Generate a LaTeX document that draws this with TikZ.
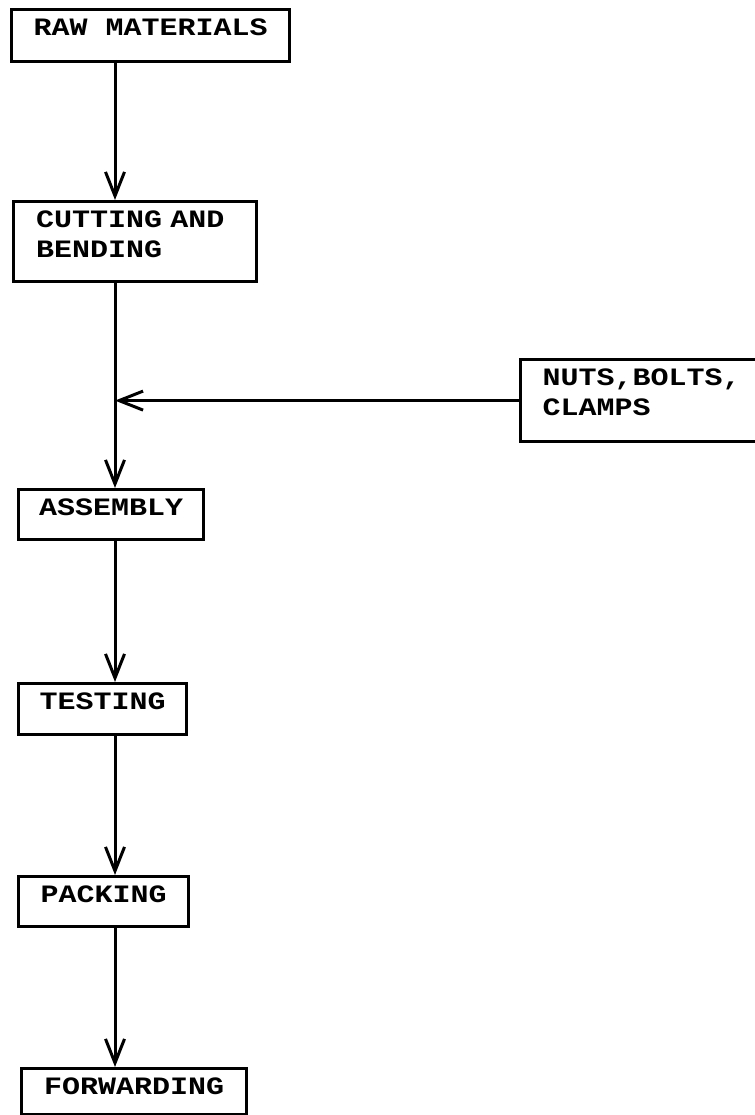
\documentclass[tikz,border=0pt]{standalone}
\usepackage{fontspec}
\usetikzlibrary{arrows.meta}
\newfontfamily\typewriter[FakeStretch=1.2]{Liberation Mono}

\begin{document}
\begin{tikzpicture}[x=0.5pt, y=-0.5pt, >={Straight Barb[length=12pt, width=9.5pt]},
    font=\typewriter\bfseries\fontsize{12.5pt}{15pt}\selectfont,
    stage/.style={draw, line width=1.6pt, anchor=north west, inner xsep=0pt, inner ysep=0pt, text height=13pt},
    flow/.style={->, line width=1.5pt}]

\useasboundingbox (0,0) rectangle (755,1115);

% ── process boxes ─────────────────────────────────────────────
\node[stage, minimum width=139pt, text depth=13pt] (raw) at (10,8) {RAW MATERIALS};
\node[stage, minimum width=121.5pt, text depth=27pt, text width=99pt, align=left] (cut) at (12,200)
    {CUTTING AND\\BENDING};
\node[stage, minimum width=121pt, text depth=28pt, text width=99pt, align=left] (nuts) at (519,358)
    {NUTS,BOLTS,\\CLAMPS};
\node[stage, minimum width=92.5pt, text depth=12pt] (asm) at (17,488) {ASSEMBLY};
\node[stage, minimum width=84pt, text depth=12.5pt] (test) at (17,682) {TESTING};
\node[stage, minimum width=85pt, text depth=12pt] (pack) at (17,875) {PACKING};
\node[stage, minimum width=112.5pt, text depth=10pt] (fwd) at (20,1067) {FORWARDING};

% main line runs down the left
\coordinate (spine) at (115,0);

% ── connectors ────────────────────────────────────────────────
\draw[flow] (raw.south -| spine) -- (cut.north -| spine);
\draw[flow] (cut.south -| spine) -- (asm.north -| spine);
\draw[flow] (nuts.west) -- (nuts.west -| spine);
\draw[flow] (asm.south -| spine) -- (test.north -| spine);
\draw[flow] (test.south -| spine) -- (pack.north -| spine);
\draw[flow] (pack.south -| spine) -- (fwd.north -| spine);

\end{tikzpicture}
\end{document}
